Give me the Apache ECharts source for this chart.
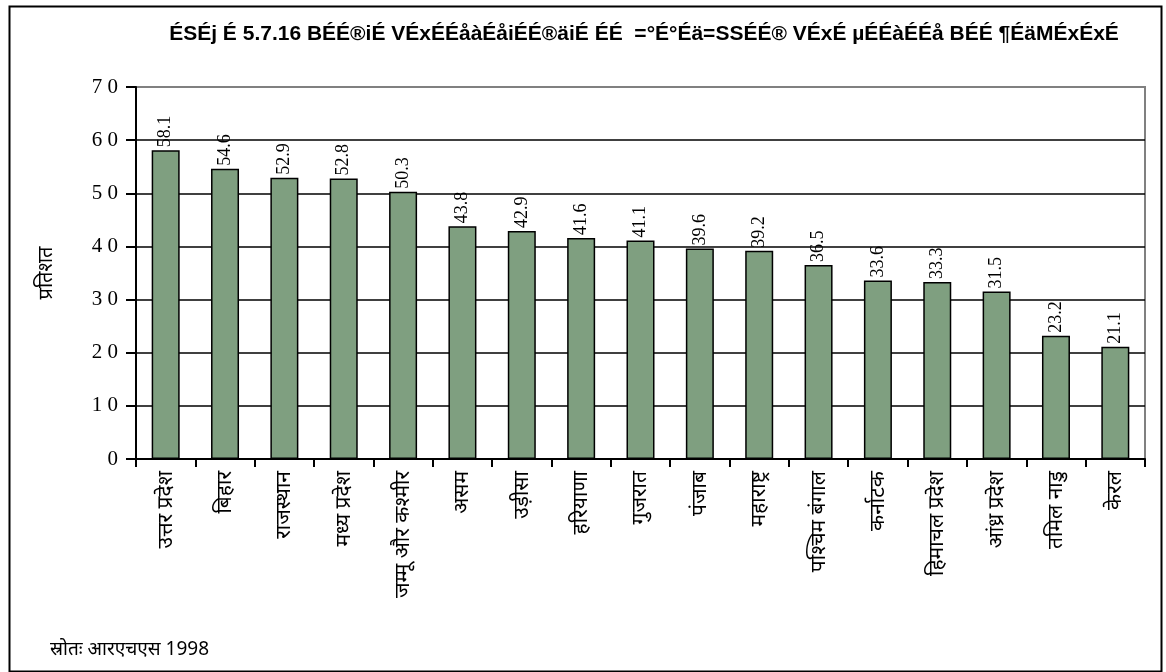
<!DOCTYPE html>
<html>
<head>
<meta charset="utf-8">
<script src="https://cdn.jsdelivr.net/npm/echarts@6/dist/echarts.min.js"></script>
<style>
  html, body { margin: 0; padding: 0; background: #fff; }
  #chart { width: 1166px; height: 672px; }
</style>
</head>
<body>
<div id="chart"></div>
<script>
// राज्य (श्रेणियाँ)
const rajya = [
  'उत्तर प्रदेश', 'बिहार', 'राजस्थान', 'मध्य प्रदेश', 'जम्मू और कश्मीर',
  'असम', 'उड़ीसा', 'हरियाणा', 'गुजरात', 'पंजाब', 'महाराष्ट्र',
  'पश्चिम बंगाल', 'कर्नाटक', 'हिमाचल प्रदेश', 'आंध्र प्रदेश', 'तमिल नाडु', 'केरल'
];
// प्रतिशत मान
const pratishat = [58.1, 54.6, 52.9, 52.8, 50.3, 43.8, 42.9, 41.6, 41.1, 39.6, 39.2, 36.5, 33.6, 33.3, 31.5, 23.2, 21.1];
// y-अक्ष
const yMin = 0;
const yMax = 70;
const yStep = 10;

const sheershak = 'ÉSÉj É 5.7.16 BÉÉ®iÉ VÉxÉÉåàÉåiÉÉ®äiÉ ÉÉ  =°É°Éä=SSÉÉ® VÉxÉ µÉÉàÉÉå BÉÉ ¶ÉäMÉxÉxÉ';
const srot = 'स्रोतः आरएचएस 1998';

const devFont = "'Noto Sans', 'Noto Sans CJK SC', sans-serif";
const serifFont = "'Liberation Serif', 'DejaVu Serif', serif";

const chart = echarts.init(document.getElementById('chart'));

// splitLine रंग: सबसे ऊपर वाली रेखा धूसर (प्लॉट की सीमा)
const lineColors = [];
for (let v = yMin; v <= yMax; v += yStep) {
  lineColors.push(v === yMax ? '#808080' : '#000');
}

const option = {
  backgroundColor: '#fff',
  animation: false,
  title: [
    {
      text: sheershak,
      left: 639,
      top: 19,
      textAlign: 'center',
      textStyle: { fontFamily: "'Liberation Sans', Arial, sans-serif", fontWeight: 'bold', fontSize: 21, color: '#000' }
    },
    {
      text: srot,
      left: 45,
      top: 635,
      textStyle: { fontFamily: devFont, fontWeight: 'normal', fontSize: 19, color: '#000' }
    }
  ],
  graphic: [
    {
      type: 'rect',
      left: 7,
      top: 4,
      shape: { width: 1152, height: 665 },
      style: { fill: 'none', stroke: '#000', lineWidth: 2 },
      silent: true
    }
  ],
  grid: {
    left: 136,
    right: 21,
    top: 87,
    bottom: 213,
    show: true,
    borderColor: '#808080',
    borderWidth: 2,
    backgroundColor: 'transparent'
  },
  xAxis: {
    type: 'category',
    data: rajya,
    axisLine: { lineStyle: { color: '#000', width: 2 } },
    axisTick: { show: true, alignWithLabel: false, length: 8, lineStyle: { color: '#000', width: 2 } },
    axisLabel: {
      rotate: 90,
      interval: 0,
      margin: 12,
      color: '#000',
      fontSize: 21,
      fontFamily: devFont
    }
  },
  yAxis: {
    type: 'value',
    min: yMin,
    max: yMax,
    interval: yStep,
    name: 'प्रतिशत',
    nameLocation: 'middle',
    nameGap: 80,
    nameRotate: 90,
    nameTextStyle: { color: '#000', fontSize: 20, fontFamily: devFont },
    axisLine: { show: true, lineStyle: { color: '#000', width: 2 } },
    axisTick: { show: true, length: 10, inside: false, lineStyle: { color: '#000', width: 2 } },
    axisLabel: {
      margin: 18,
      color: '#000',
      fontSize: 21,
      fontFamily: serifFont,
      formatter: (v) => String(v).split('').join(' ')
    },
    splitLine: { show: true, lineStyle: { color: lineColors, width: 1.5 } }
  },
  series: [
    {
      type: 'bar',
      data: pratishat,
      barWidth: 28,
      itemStyle: { color: '#7f9f80', borderColor: '#000', borderWidth: 1.5 },
      label: {
        show: true,
        position: 'top',
        rotate: 90,
        align: 'left',
        verticalAlign: 'middle',
        distance: 3,
        color: '#000',
        fontSize: 18,
        fontFamily: serifFont,
        formatter: (p) => p.value.toFixed(1)
      }
    }
  ]
};

chart.setOption(option);
</script>
</body>
</html>
